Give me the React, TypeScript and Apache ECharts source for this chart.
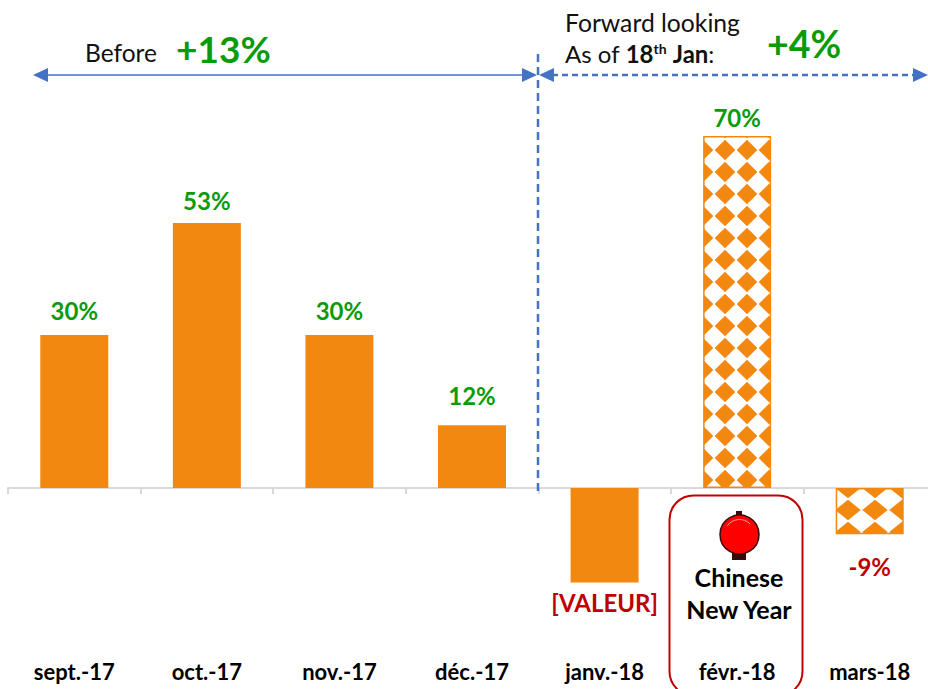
import React, { useEffect, useRef } from "react";
import * as echarts from "echarts";

const categories = ["sept.-17", "oct.-17", "nov.-17", "déc.-17", "janv.-18", "févr.-18", "mars-18"];
const values = [30.4, 52.7, 30.4, 12.5, -18.8, 70, -9.2];
const labels = ["30%", "53%", "30%", "12%", "[VALEUR]", "70%", "-9%"];
const labelDistances = [13, 10, 13, 18, 8, 6, 20];
const patterned = [false, false, false, false, false, true, true];

const ORANGE = "#F2880F";
const GREEN = "#0A9B0A";
const RED = "#C00000";
const BLUE = "#4472C4";
const FONT = "Lato, 'Open Sans', sans-serif";

// Tile with a diamond centred on (cx, cy) modulo the tile size.
function tile(w: number, h: number, cx: number, cy: number) {
  const c = document.createElement("canvas");
  c.width = w;
  c.height = h;
  const g = c.getContext("2d")!;
  g.fillStyle = "#fff";
  g.fillRect(0, 0, w, h);
  g.fillStyle = ORANGE;
  (g as any).filter = "blur(0.6px)";
  for (const dx of [-w, 0, w]) {
    for (const dy of [-h, 0, h]) {
      const x = cx + dx;
      const y = cy + dy;
      g.beginPath();
      g.moveTo(x - w * 0.47, y);
      g.lineTo(x, y - h * 0.47);
      g.lineTo(x + w * 0.47, y);
      g.lineTo(x, y + h * 0.47);
      g.closePath();
      g.fill();
    }
  }
  return c;
}

function arrow(x: number, y: number, dir: number) {
  return {
    type: "polygon",
    z: 5,
    shape: { points: [[x, y], [x + dir * 15, y - 7], [x + dir * 15, y + 7]] },
    style: { fill: BLUE },
  };
}

function txt(x: number, y: number, text: string, size: number, color: string, weight: string, align = "left", rich?: any) {
  return {
    type: "text",
    z: 6,
    x,
    y,
    style: { text, fontFamily: FONT, fontSize: size, fill: color, fontWeight: weight, align, verticalAlign: "middle", rich },
  };
}

export default function App() {
  const ref = useRef<HTMLDivElement>(null);
  useEffect(() => {
    const chart = echarts.init(ref.current!, undefined, { renderer: "svg" });
    const patMar = { image: tile(27, 22, 11, 4), repeat: "repeat" };
    const patFeb = { image: tile(22, 22, 21, 18), repeat: "repeat" };
    chart.setOption({
      animation: false,
      backgroundColor: "#fff",
      grid: { left: 8, top: 85.6, width: 928, height: 603.6, outerBoundsMode: "none" },
      xAxis: {
        type: "category",
        data: categories,
        axisLine: { show: true, onZero: true, lineStyle: { color: "#D9D9D9", width: 2 } },
        axisTick: { show: true, length: 6, lineStyle: { color: "#D9D9D9", width: 2 } },
        axisLabel: { margin: -29, color: "#000", fontFamily: FONT, fontWeight: "bold", fontSize: 22, interval: 0 },
      },
      yAxis: { type: "value", min: -40, max: 80, show: false, splitLine: { show: false } },
      series: [
        {
          type: "bar",
          barWidth: 68,
          data: values.map((v, i) => {
            const isPat = patterned[i];
            return {
              value: v,
              itemStyle: {
                color: isPat ? (i === 5 ? patFeb : patMar) : ORANGE,
                borderColor: ORANGE,
                borderWidth: isPat ? 1.5 : 0,
              },
              label: {
                show: true,
                position: v < 0 ? "bottom" : "top",
                distance: labelDistances[i],
                formatter: labels[i],
                color: v < 0 ? RED : GREEN,
                fontFamily: FONT,
                fontWeight: "bold",
                fontSize: 24,
              },
            };
          }),
        },
      ],
      graphic: [
        { type: "line", z: 5, shape: { x1: 45, y1: 75, x2: 525, y2: 75 }, style: { stroke: BLUE, lineWidth: 1.5 } },
        arrow(33, 75, 1),
        arrow(537, 75, -1),
        { type: "line", z: 5, shape: { x1: 552, y1: 75, x2: 916, y2: 75 }, style: { stroke: BLUE, lineWidth: 2.5, lineDash: [6, 4] } },
        arrow(539, 75, 1),
        arrow(928, 75, -1),
        { type: "line", z: 5, shape: { x1: 538, y1: 54, x2: 538, y2: 495 }, style: { stroke: BLUE, lineWidth: 2.5, lineDash: [8, 5] } },
        {
          type: "rect",
          z: 4,
          shape: { x: 669.5, y: 495.5, width: 133, height: 200, r: 24 },
          style: { fill: "transparent", stroke: RED, lineWidth: 2 },
        },
        { type: "rect", z: 5, shape: { x: 736, y: 511, width: 6, height: 6 }, style: { fill: "#3A0A0A" } },
        { type: "rect", z: 5, shape: { x: 732, y: 551, width: 14, height: 9 }, style: { fill: "#3A0A0A" } },
        { type: "circle", z: 6, shape: { cx: 739.5, cy: 534.5, r: 19.5 }, style: { fill: "#FF0000", stroke: "#3A0A0A", lineWidth: 1.5 } },
        {
          type: "arc",
          z: 7,
          shape: { cx: 739.5, cy: 534.5, r: 15, startAngle: Math.PI * 1.2, endAngle: Math.PI * 1.75 },
          style: { stroke: "#FF9A9A", lineWidth: 1, fill: "none" },
        },
        txt(739, 577, "Chinese", 25, "#000", "bold", "center"),
        txt(739, 609, "New Year", 25, "#000", "bold", "center"),
        txt(85, 52, "Before", 24.5, "#111", "normal"),
        txt(176, 48, "+13%", 37, GREEN, "bold"),
        txt(565, 22, "Forward looking", 24.7, "#111", "normal"),
        txt(565, 53, "As of {b|18}{s|th} {b|Jan}:", 24, "#111", "normal", "left", {
          b: { fontFamily: FONT, fontSize: 24, fontWeight: "bold", fill: "#111" },
          s: { fontFamily: FONT, fontSize: 14, fontWeight: "bold", fill: "#111", verticalAlign: "top", padding: [0, 0, 8, 0] },
        }),
        txt(767, 43, "+4%", 37.5, GREEN, "bold"),
      ],
    });
    return () => chart.dispose();
  }, []);
  return <div ref={ref} style={{ position: "fixed", left: 0, top: 0, width: 928, height: 689 }} />;
}
